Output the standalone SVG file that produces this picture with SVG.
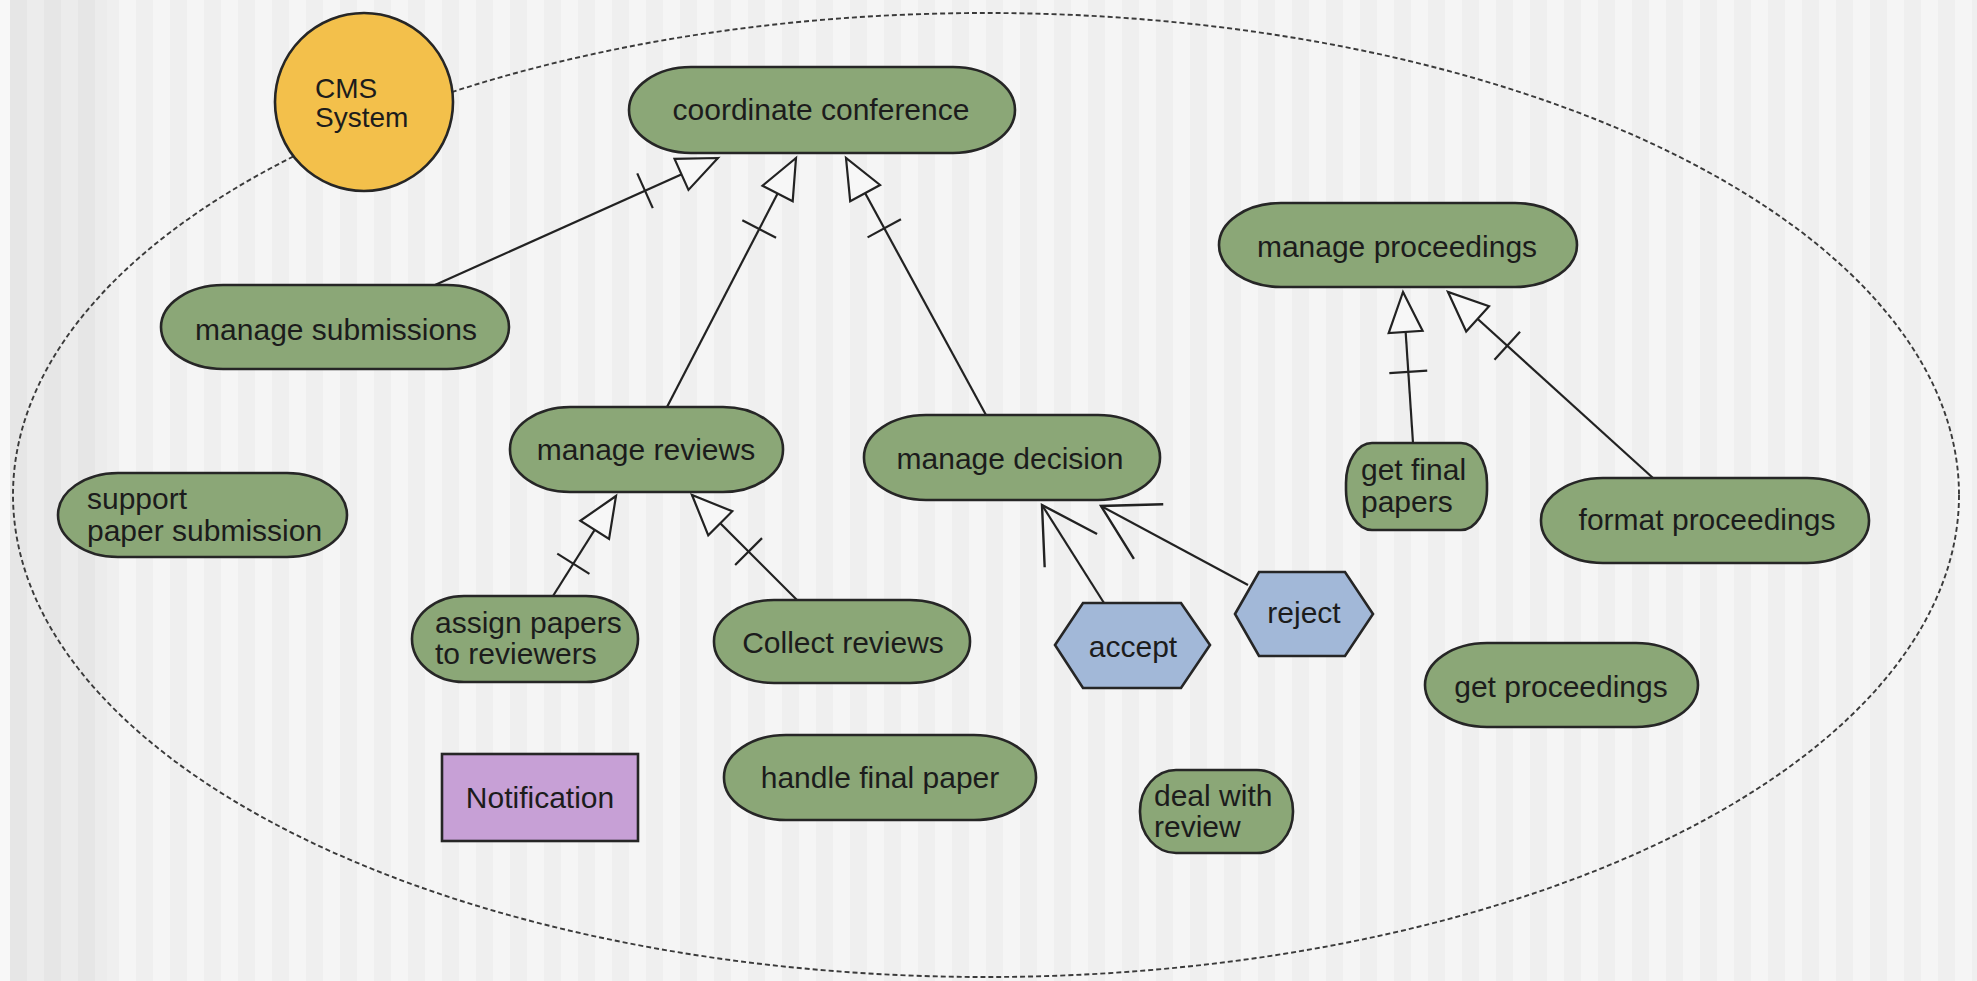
<svg xmlns="http://www.w3.org/2000/svg" width="1977" height="981" viewBox="0 0 1977 981">
  <style>
    .uc { fill: #8ba777; stroke: #262626; stroke-width: 2.6; }
    .hx { fill: #a2b8d8; stroke: #262626; stroke-width: 2.6; }
    .lbl { font-family: "Liberation Sans", Arial, Helvetica, sans-serif; font-size: 30px; fill: #1c1c1c; }
    .mid { text-anchor: middle; }
    .edge { stroke: #222; stroke-width: 2.2; fill: none; }
  </style>
  <defs>
    <pattern id="stripes" x="0" y="0" width="34" height="981" patternUnits="userSpaceOnUse">
      <rect x="0" y="0" width="17" height="981" fill="#efefef"/>
      <rect x="17" y="0" width="17" height="981" fill="#f5f5f5"/>
    </pattern>
    <pattern id="stripesDark" x="10" y="0" width="34" height="981" patternUnits="userSpaceOnUse">
      <rect x="0" y="0" width="17" height="981" fill="#e6e6e6"/>
      <rect x="17" y="0" width="17" height="981" fill="#ececec"/>
    </pattern>
    <!-- generalization: hollow triangle with a tick mark across the shaft -->
    <marker id="gen" markerUnits="userSpaceOnUse" viewBox="-100 -30 110 60" markerWidth="110" markerHeight="60" refX="0" refY="0" orient="auto" overflow="visible">
      <path d="M-80,-19 L-80,19" stroke="#222" stroke-width="2.2" fill="none"/>
      <path d="M0,0 L-40,-17 L-40,17 Z" fill="#f7f7f7" stroke="#222" stroke-width="2.2"/>
    </marker>
    <!-- open arrowhead -->
    <marker id="open" markerUnits="userSpaceOnUse" viewBox="-70 -40 80 80" markerWidth="80" markerHeight="80" refX="0" refY="0" orient="auto" overflow="visible">
      <path d="M-54,-31 L0,0 L-54,31" stroke="#222" stroke-width="2.4" fill="none" stroke-linejoin="miter"/>
    </marker>
  </defs>

  <!-- background -->
  <rect x="0" y="0" width="1977" height="981" fill="url(#stripes)"/>
  <rect x="0" y="0" width="10" height="981" fill="#f8f8f8"/>
  <rect x="10" y="0" width="97" height="981" fill="url(#stripesDark)"/>

  <!-- system boundary -->
  <ellipse id="boundary" cx="986" cy="495" rx="973" ry="482" fill="none" stroke="#3a3a3a" stroke-width="1.9" stroke-dasharray="5 3"/>

  <!-- connectors -->
  <g id="connectors">
    <path class="edge" d="M435,285 L718,158" marker-end="url(#gen)"/>
    <path class="edge" d="M667,407 L796,158" marker-end="url(#gen)"/>
    <path class="edge" d="M986,415 L846,158" marker-end="url(#gen)"/>
    <path class="edge" d="M553,596 L616,496" marker-end="url(#gen)"/>
    <path class="edge" d="M797,600 L692,495" marker-end="url(#gen)"/>
    <path class="edge" d="M1413,443 L1403,292" marker-end="url(#gen)"/>
    <path class="edge" d="M1653,478 L1448,292" marker-end="url(#gen)"/>
    <path class="edge" d="M1104,603 L1042,505" marker-end="url(#open)"/>
    <path class="edge" d="M1248,585 L1101,506" marker-end="url(#open)"/>
  </g>

  <g id="cms-system">
    <circle cx="364" cy="102" r="89" fill="#f3c04b" stroke="#262626" stroke-width="2.6"/>
    <text class="lbl" x="315" y="98" style="font-size:28px">CMS</text>
    <text class="lbl" x="315" y="127" style="font-size:28px">System</text>
  </g>

  <g id="coordinate-conference">
    <rect class="uc" x="629" y="67" width="386" height="86" rx="62" ry="43"/>
    <text class="lbl mid" x="821" y="120">coordinate conference</text>
  </g>

  <g id="manage-submissions">
    <rect class="uc" x="161" y="285" width="348" height="84" rx="62" ry="42"/>
    <text class="lbl mid" x="336" y="340">manage submissions</text>
  </g>

  <g id="manage-proceedings">
    <rect class="uc" x="1219" y="203" width="358" height="84" rx="62" ry="42"/>
    <text class="lbl mid" x="1397" y="257">manage proceedings</text>
  </g>

  <g id="support-paper-submission">
    <rect class="uc" x="58" y="473" width="289" height="84" rx="60" ry="42"/>
    <text class="lbl" x="87" y="509">support</text>
    <text class="lbl" x="87" y="541">paper submission</text>
  </g>

  <g id="manage-reviews">
    <rect class="uc" x="510" y="407" width="273" height="85" rx="60" ry="42"/>
    <text class="lbl mid" x="646" y="460">manage reviews</text>
  </g>

  <g id="manage-decision">
    <rect class="uc" x="864" y="415" width="296" height="85" rx="62" ry="42"/>
    <text class="lbl mid" x="1010" y="469">manage decision</text>
  </g>

  <g id="get-final-papers">
    <rect class="uc" x="1346" y="443" width="141" height="87" rx="26" ry="40"/>
    <text class="lbl" x="1361" y="480">get final</text>
    <text class="lbl" x="1361" y="512">papers</text>
  </g>

  <g id="format-proceedings">
    <rect class="uc" x="1541" y="478" width="328" height="85" rx="62" ry="42"/>
    <text class="lbl mid" x="1707" y="530">format proceedings</text>
  </g>

  <g id="assign-papers">
    <rect class="uc" x="412" y="596" width="226" height="86" rx="52" ry="43"/>
    <text class="lbl" x="435" y="633">assign papers</text>
    <text class="lbl" x="435" y="664">to reviewers</text>
  </g>

  <g id="collect-reviews">
    <rect class="uc" x="714" y="600" width="256" height="83" rx="60" ry="41"/>
    <text class="lbl mid" x="843" y="653">Collect reviews</text>
  </g>

  <g id="accept">
    <polygon class="hx" points="1055,645 1083,603 1181,603 1210,645 1181,688 1083,688"/>
    <text class="lbl mid" x="1133" y="657">accept</text>
  </g>

  <g id="reject">
    <polygon class="hx" points="1235,614 1259,572 1345,572 1373,614 1345,656 1259,656"/>
    <text class="lbl mid" x="1304" y="623">reject</text>
  </g>

  <g id="get-proceedings">
    <rect class="uc" x="1425" y="643" width="273" height="84" rx="62" ry="42"/>
    <text class="lbl mid" x="1561" y="697">get proceedings</text>
  </g>

  <g id="notification">
    <rect x="442" y="754" width="196" height="87" fill="#c7a0d6" stroke="#262626" stroke-width="2.6"/>
    <text class="lbl mid" x="540" y="808">Notification</text>
  </g>

  <g id="handle-final-paper">
    <rect class="uc" x="724" y="735" width="312" height="85" rx="62" ry="42"/>
    <text class="lbl mid" x="880" y="788">handle final paper</text>
  </g>

  <g id="deal-with-review">
    <rect class="uc" x="1140" y="770" width="153" height="83" rx="36" ry="41"/>
    <text class="lbl" x="1154" y="806">deal with</text>
    <text class="lbl" x="1154" y="837">review</text>
  </g>
</svg>
